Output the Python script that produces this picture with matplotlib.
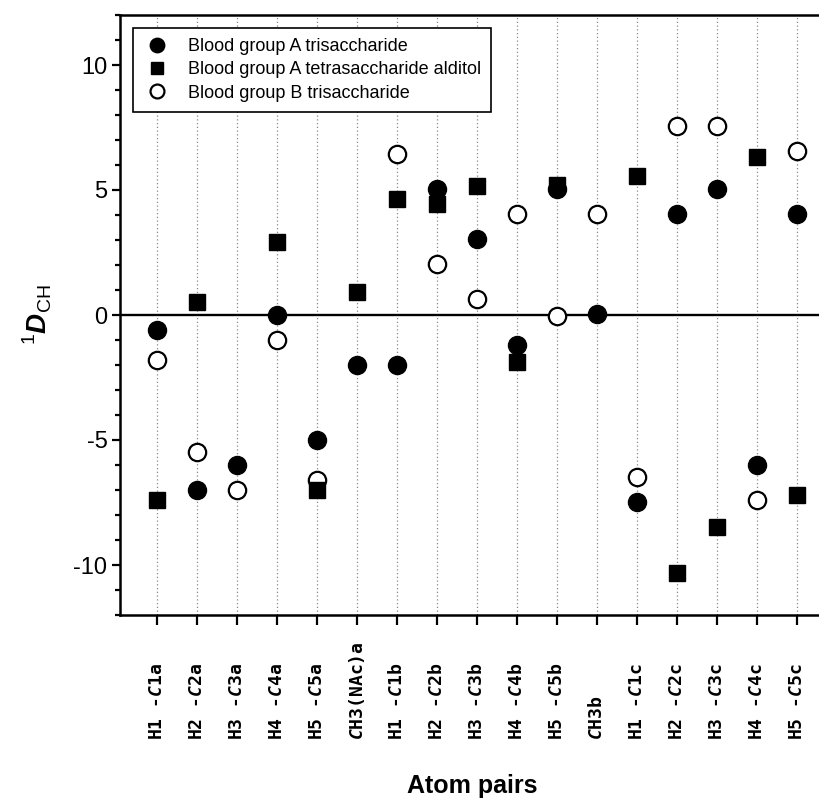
#grafica de acoplamientos dipolares residuales 1D_CH para cada par de atomos

import matplotlib.pyplot as plt
from matplotlib.ticker import MultipleLocator

#etiquetas de los pares de atomos (la C va en cursiva)
pares = [
    'H1 -$C$1a', 'H2 -$C$2a', 'H3 -$C$3a', 'H4 -$C$4a', 'H5 -$C$5a', '$C$H3(NAc)a',
    'H1 -$C$1b', 'H2 -$C$2b', 'H3 -$C$3b', 'H4 -$C$4b', 'H5 -$C$5b', '$C$H3b',
    'H1 -$C$1c', 'H2 -$C$2c', 'H3 -$C$3c', 'H4 -$C$4c', 'H5 -$C$5c'
]

#valores, None = sin dato
a_tri = [-0.6, -7.0, -6.0, 0.0, -5.0, -2.0, -2.0, 5.05, 3.05, -1.2, 5.05, 0.05,
         -7.5, 4.05, 5.05, -6.0, 4.05]
a_tetra = [-7.4, 0.5, None, 2.9, -7.0, 0.9, 4.65, 4.45, 5.15, -1.9, 5.2, None,
           5.55, -10.3, -8.5, 6.3, -7.2]
b_tri = [-1.8, -5.5, -7.0, -1.0, -6.6, None, 6.45, 2.05, 0.65, 4.05, -0.05, 4.05,
         -6.5, 7.55, 7.55, -7.4, 6.55]

series = [
    ('Blood group A trisaccharide', a_tri),
    ('Blood group A tetrasaccharide alditol', a_tetra),
    ('Blood group B trisaccharide', b_tri),
]

plt.rcParams['font.family'] = ['Liberation Sans', 'DejaVu Sans']
plt.rcParams['axes.unicode_minus'] = False
plt.rcParams['mathtext.fontset'] = 'custom'
plt.rcParams['mathtext.it'] = 'DejaVu Sans Mono:italic:bold'
plt.rcParams['mathtext.rm'] = 'Liberation Sans'
plt.rcParams['mathtext.bf'] = 'Liberation Sans:italic:bold'

fig = plt.figure(figsize=(8.2, 8.05), dpi=100)
ax = fig.add_axes([120 / 820, 190 / 805, 704 / 820, 600 / 805])

x = list(range(len(pares)))

def puntos(valores):
    #quita los huecos para dibujar solo los datos que existen
    xs = [i for i, v in zip(x, valores) if v is not None]
    ys = [v for v in valores if v is not None]
    return xs, ys

#lineas verticales punteadas en cada par
for i in x:
    ax.axvline(i, color='#888888', linestyle=(0, (1, 2)), linewidth=0.9, zorder=1)

#linea del cero
ax.axhline(0, color='black', linewidth=1.7, zorder=2)

#orden de dibujo: circulo abierto abajo, cuadrado, circulo lleno arriba
xs, ys = puntos(b_tri)
h_b = ax.plot(xs, ys, 'o', markersize=12.5, markerfacecolor='white',
              markeredgecolor='black', markeredgewidth=1.6, zorder=3)[0]
xs, ys = puntos(a_tetra)
h_tetra = ax.plot(xs, ys, 's', markersize=11.5, color='black', zorder=4)[0]
xs, ys = puntos(a_tri)
h_a = ax.plot(xs, ys, 'o', markersize=13, color='black', zorder=5)[0]

ax.set_xlim(-0.925, -0.925 + 704 / 40)
ax.set_ylim(-12, 12)

#las etiquetas van alineadas por abajo, como en el original
ax.set_xticks(x)
ax.set_xticklabels(pares, rotation=90, family='DejaVu Sans Mono',
                   fontweight='bold', fontsize=13, va='bottom')
ax.yaxis.set_major_locator(MultipleLocator(5))
ax.yaxis.set_minor_locator(MultipleLocator(1))
ax.tick_params(axis='y', which='major', direction='out', length=6, width=1.6,
               labelsize=17, pad=3)
ax.tick_params(axis='y', which='minor', direction='out', length=3.5, width=1.6)
ax.tick_params(axis='x', direction='out', length=7, width=1.6, pad=83)

for lado in ['left', 'bottom', 'top', 'right']:
    ax.spines[lado].set_linewidth(1.8)

ax.set_xlabel('Atom pairs', fontsize=18, fontweight='bold', labelpad=0)
ax.xaxis.set_label_coords(0.5, -0.265)
ax.set_ylabel(r'$^{1}\mathbf{D}_{\mathrm{CH}}$', fontsize=20, labelpad=14)

leg = ax.legend([h_a, h_tetra, h_b], [s[0] for s in series],
                loc='upper left', bbox_to_anchor=(0.0185, 0.978), borderaxespad=0,
                fontsize=13, frameon=True, fancybox=False, framealpha=1,
                edgecolor='black', handletextpad=0.9, labelspacing=0.35,
                borderpad=0.55, handlelength=1.6, markerscale=0.8)
leg.get_frame().set_linewidth(1.2)

fig.savefig('out.png', dpi=100)
